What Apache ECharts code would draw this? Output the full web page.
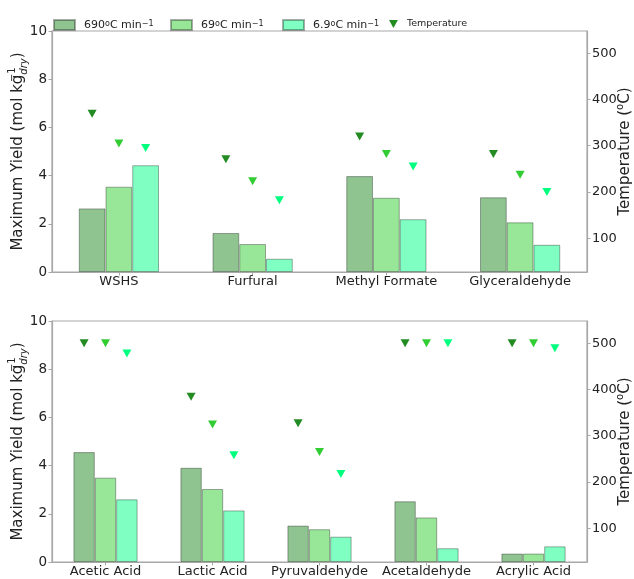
<!DOCTYPE html>
<html>
<head>
<meta charset="utf-8">
<script src="https://cdn.jsdelivr.net/npm/echarts@6/dist/echarts.min.js"></script>
<style>html,body{margin:0;padding:0;background:#fff}#c{width:634px;height:579px}</style>
</head>
<body>
<div id="c"></div>
<script>
// ---- data ----
const topCategories = ['WSHS', 'Furfural', 'Methyl Formate', 'Glyceraldehyde'];
const topYield690 = [2.64, 1.62, 3.98, 3.10];
const topYield69 = [3.54, 1.16, 3.08, 2.06];
const topYield6_9 = [4.43, 0.55, 2.19, 1.13];
const topTemp690 = [369, 271, 320, 282];
const topTemp69 = [305, 223, 282, 237];
const topTemp6_9 = [295, 182, 255, 200];

const bottomCategories = ['Acetic Acid', 'Lactic Acid', 'Pyruvaldehyde', 'Acetaldehyde', 'Acrylic Acid'];
const bottomYield690 = [4.56, 3.91, 1.51, 2.52, 0.35];
const bottomYield69 = [3.50, 3.03, 1.36, 1.85, 0.35];
const bottomYield6_9 = [2.60, 2.14, 1.05, 0.57, 0.65];
const bottomTemp690 = [500, 384, 327, 500, 500];
const bottomTemp69 = [500, 324, 265, 500, 500];
const bottomTemp6_9 = [478, 258, 217, 500, 489];

const yieldTicks = [0, 2, 4, 6, 8, 10];
const tempTicks = [100, 200, 300, 400, 500];
const rateNames = ['690', '69', '6.9'];

// ---- styling ----
const FONT = '"DejaVu Sans", sans-serif';
const barColors = ['#8fc38f', '#98e698', '#80ffc2'];
const markerColors = ['#228b22', '#32cd32', '#00ff7f'];
const spine = '#a8a8a8';
const tri = 'path://M0,0 L10,0 L5,9 Z';
const BAR_FRAC = 0.2;

const grids = [
  {left: 52, right: 47, top: 31, height: 241},
  {left: 52, right: 47, top: 321, height: 241}
];

function yieldAxis(gi) {
  return {
    type: 'value', gridIndex: gi, min: yieldTicks[0], max: yieldTicks[yieldTicks.length - 1], interval: 2,
    position: 'left',
    name: 'Maximum Yield (mol kg{sup|−1}{sub|dry})',
    nameLocation: 'middle', nameGap: 23, nameMoveOverlap: false,
    nameTextStyle: {fontFamily: FONT, fontSize: 15, color: '#222', lineHeight: 22,
      rich: {
        sup: {fontFamily: FONT, fontSize: 10, color: '#222', verticalAlign: 'top', lineHeight: 10, width: 0},
        sub: {fontFamily: FONT, fontSize: 10, color: '#222', verticalAlign: 'bottom', lineHeight: 10, fontStyle: 'italic'}
      }},
    axisLine: {show: true, onZero: false, lineStyle: {color: spine, width: 1.2}},
    axisTick: {show: true, length: 3.5, lineStyle: {color: spine}},
    axisLabel: {fontFamily: FONT, fontSize: 13.5, color: '#222', margin: 5},
    splitLine: {show: false}
  };
}
function tempAxis(gi) {
  return {
    type: 'value', gridIndex: gi, min: 27, max: 548, position: 'right',
    name: 'Temperature ({sup|o}C)',
    nameLocation: 'middle', nameGap: 28, nameRotate: 90, nameMoveOverlap: false,
    nameTextStyle: {fontFamily: FONT, fontSize: 15, color: '#222', lineHeight: 20,
      rich: {sup: {fontFamily: FONT, fontSize: 10, color: '#222', verticalAlign: 'top', lineHeight: 10}}},
    axisLine: {show: true, onZero: false, lineStyle: {color: spine, width: 1.2}},
    axisTick: {show: true, length: 3.5, lineStyle: {color: spine}, customValues: tempTicks},
    axisLabel: {fontFamily: FONT, fontSize: 13, color: '#222', margin: 5, customValues: tempTicks},
    splitLine: {show: false}
  };
}
function catAxis(gi, cats) {
  return {
    type: 'category', gridIndex: gi, data: cats, position: 'bottom',
    axisLine: {show: true, onZero: false, lineStyle: {color: spine, width: 1.2}},
    axisTick: {show: true, alignWithLabel: true, length: 3.5, lineStyle: {color: spine}},
    axisLabel: {fontFamily: FONT, fontSize: 13, color: '#222', margin: 3, interval: 0}
  };
}
function posAxis(gi, n) {
  return {type: 'value', gridIndex: gi, min: -0.5, max: n - 0.5, show: false};
}

const xAxes = [catAxis(0, topCategories), posAxis(0, topCategories.length),
               catAxis(1, bottomCategories), posAxis(1, bottomCategories.length)];
const yAxes = [yieldAxis(0), tempAxis(0), yieldAxis(1), tempAxis(1)];

const series = [];
function addPanel(gi, yields, temps) {
  yields.forEach((arr, k) => {
    series.push({
      type: 'bar', name: rateNames[k], xAxisIndex: gi * 2, yAxisIndex: gi * 2,
      data: arr, barWidth: (BAR_FRAC * 100) + '%', barGap: '0%',
      itemStyle: {color: barColors[k], borderColor: 'rgba(0,0,0,0.33)', borderWidth: 1},
      silent: true
    });
  });
  const pts = [];
  temps.forEach((arr, k) => {
    arr.forEach((t, i) => {
      pts.push({value: [i + (k - 1) * BAR_FRAC, t], itemStyle: {color: markerColors[k], opacity: 1}});
    });
  });
  series.push({
    type: 'scatter', name: 'Temperature', xAxisIndex: gi * 2 + 1, yAxisIndex: gi * 2 + 1,
    data: pts, symbol: tri, symbolSize: [9, 8], itemStyle: {color: markerColors[0], opacity: 1}, z: 5, silent: true
  });
}
addPanel(0, [topYield690, topYield69, topYield6_9], [topTemp690, topTemp69, topTemp6_9]);
addPanel(1, [bottomYield690, bottomYield69, bottomYield6_9], [bottomTemp690, bottomTemp69, bottomTemp6_9]);

const legendText = {
  '690': '690{sup|o}C min{sup|−1}',
  '69': '69{sup|o}C min{sup|−1}',
  '6.9': '6.9{sup|o}C min{sup|−1}',
  'Temperature': '{small|Temperature}'
};
const legendLefts = [53, 170, 282, 389];
const legendNames = ['690', '69', '6.9', 'Temperature'];
const legends = legendNames.map((nm, i) => ({
  data: [nm], left: legendLefts[i], top: 19, padding: 0,
  itemWidth: nm === 'Temperature' ? 9 : 21,
  itemHeight: nm === 'Temperature' ? 8 : 10,
  icon: nm === 'Temperature' ? tri : 'rect',
  selectedMode: false,
  formatter: n => legendText[n],
  textStyle: {fontFamily: FONT, fontSize: 11, color: '#222', padding: [0, 0, 0, 4],
    rich: {
      sup: {fontFamily: FONT, fontSize: 8, color: '#222', verticalAlign: 'top', lineHeight: 8},
      small: {fontFamily: FONT, fontSize: 9.5, color: '#222'}
    }}
}));

const chart = echarts.init(document.getElementById('c'), null, {renderer: 'canvas'});
chart.setOption({
  animation: false,
  backgroundColor: '#fff',
  grid: grids.map(g => Object.assign({show: true, borderColor: spine, borderWidth: 1.2, backgroundColor: 'transparent', outerBoundsMode: 'none', containLabel: false}, g)),
  legend: legends,
  xAxis: xAxes,
  yAxis: yAxes,
  series: series
});
</script>
</body>
</html>
